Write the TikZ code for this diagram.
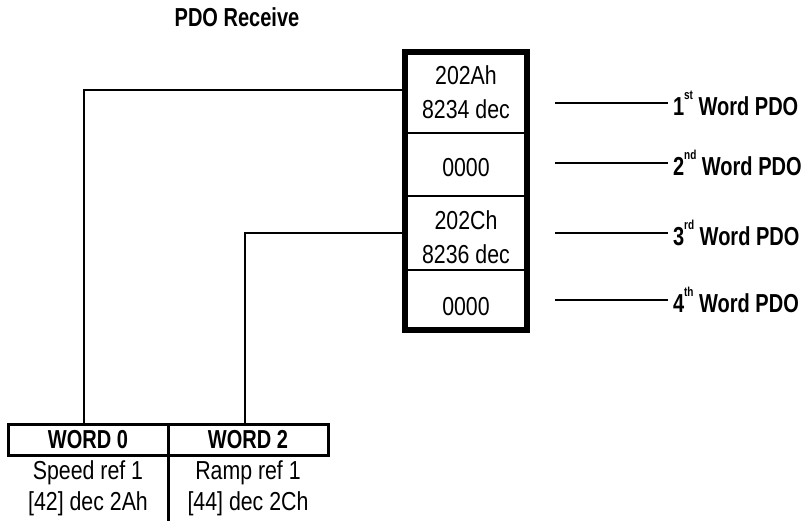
\documentclass[tikz,border=0pt]{standalone}
\usepackage{fontspec}
\setmainfont{Liberation Sans}[FakeStretch=0.82, BoldFeatures={FakeStretch=0.77}]
\usetikzlibrary{positioning,fit}
\newcommand{\ordsup}[1]{\raisebox{0.62em}{\fontsize{6.5}{6.5}\selectfont #1}}
\newcommand{\cellpad}[1]{\rule{0pt}{#1}}
\tikzset{
  pdocell/.style={draw, line width=1.4pt, minimum width=61pt, inner sep=0pt, outer sep=0pt, align=center,
    font=\fontsize{13}{17}\selectfont},
  pdoframe/.style={draw, line width=2.6pt, inner sep=0pt},
  wordhead/.style={draw, line width=1.5pt, minimum width=80pt, minimum height=15.5pt, inner sep=0pt, outer sep=0pt, font=\bfseries},
  worddesc/.style={minimum width=80pt, minimum height=33pt, inner sep=0pt, outer sep=0pt, align=center,
    font=\fontsize{13}{15.5}\selectfont},
  pdolabel/.style={anchor=west, inner sep=2.5pt, outer sep=0pt, font=\bfseries},
  wire/.style={line width=1pt}
}

\begin{document}
\fontsize{13}{16.5}\selectfont
\begin{tikzpicture}[x=0.5pt, y=-0.5pt]
  \useasboundingbox (0,0) rectangle (809,521);
  \node[font=\bfseries] (title) at (237,17) {PDO Receive};
  % receive stack
  \node[pdocell, minimum height=40.5pt, anchor=north] (row1) at (466,52) {202Ah\\8234 dec};
  \node[pdocell, minimum height=31.5pt, below=0pt of row1] (row2) {\cellpad{12.4pt}0000};
  \node[pdocell, minimum height=37pt, below=0pt of row2] (row3) {\cellpad{13.9pt}202Ch\\8236 dec};
  \node[pdocell, minimum height=30pt, below=0pt of row3] (row4) {\cellpad{15.4pt}0000};
  \node[pdoframe, fit=(row1)(row4)] (stack) {};
  % word labels
  \node[pdolabel] (pdo1) at (668,103) {1\ordsup{st} Word PDO};
  \node[pdolabel] (pdo2) at (668,163) {2\ordsup{nd} Word PDO};
  \node[pdolabel] (pdo3) at (668,233) {3\ordsup{rd} Word PDO};
  \node[pdolabel] (pdo4) at (668,300) {4\ordsup{th} Word PDO};
  \coordinate (tick1) at (555,103);
  \coordinate (tick2) at (555,163);
  \coordinate (tick3) at (555,233);
  \coordinate (tick4) at (555,300);
  \draw[wire] (tick1) -- (pdo1.west);
  \draw[wire] (tick2) -- (pdo2.west);
  \draw[wire] (tick3) -- (pdo3.west);
  \draw[wire] (tick4) -- (pdo4.west);
  % drive words
  \node[wordhead, anchor=north west] (word0) at (8,424) {WORD 0};
  \node[wordhead, right=0pt of word0] (word2) {WORD 2};
  \node[worddesc, below=0pt of word0] (desc0) {Speed ref 1\\{[42]} dec 2Ah};
  \node[worddesc, below=0pt of word2] (desc2) {Ramp ref 1\\{[44]} dec 2Ch};
  \draw[line width=1.5pt] (word0.south east) -- (desc0.south east);
  \draw[wire] ([yshift=1.5pt]row1.west) -| ([xshift=-2pt]word0.north);
  \draw[wire] (row3.west) -| ([xshift=-1.5pt]word2.north);
\end{tikzpicture}
\end{document}
